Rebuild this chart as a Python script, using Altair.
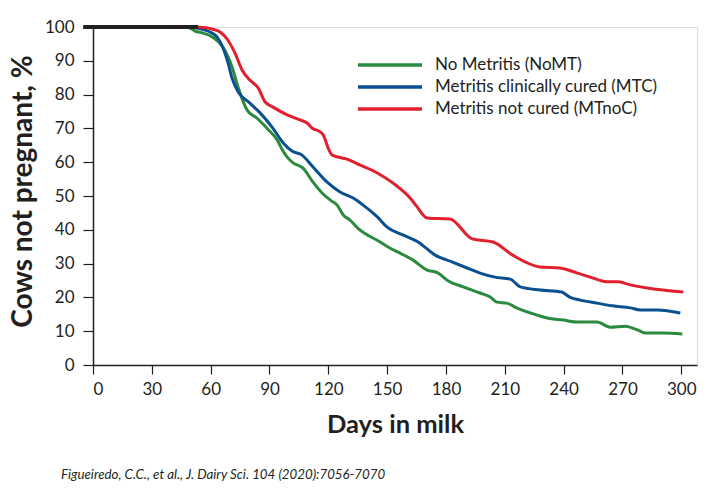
import altair as alt
import pandas as pd

# ---- data ----
SERIES = ["No Metritis (NoMT)", "Metritis clinically cured (MTC)", "Metritis not cured (MTnoC)"]
COLORS = ["#2b8a3e", "#0a4f8e", "#e1202e"]

nomt_days = [47, 49.5, 52, 56, 61, 66.3, 70.9, 74, 78.6, 83.7, 88.8, 93.9, 97, 99.5, 102, 107, 112.2, 116.8,
             121, 124.5, 127.6, 131, 135, 146.4, 150.5, 156.6, 163, 170.4, 176, 180.6, 188.8, 197.4, 202.6,
             206, 211, 216, 223, 231.6, 239.8, 247, 257, 263.8, 271.4, 277.6, 281.6, 290.8, 300.5]
nomt_vals = [100, 99.7, 98.8, 98.2, 97, 94, 88.2, 82.2, 75.4, 73, 70, 66.6, 63.2, 61.2, 59.8, 58.3, 54.1, 50.9,
             48.8, 47.3, 44.4, 42.9, 40.5, 36.4, 34.9, 33.1, 31.1, 28.1, 27.2, 25.1, 23.1, 21.3, 20.1,
             18.6, 18.3, 16.9, 15.4, 13.9, 13.3, 12.7, 12.7, 11.2, 11.5, 10.4, 9.5, 9.5, 9.2]

mtc_days = [50, 53.6, 59.7, 63.3, 66.3, 68.9, 70.9, 74, 80, 85.2, 91.3, 97, 101.5, 106.6, 112.2, 119.4, 126,
            132.7, 137.8, 145, 150, 158, 165.8, 174.5, 183, 190.8, 197.4, 205, 212.8, 217.9, 228, 239, 243,
            248.5, 257, 265, 274, 279, 287.8, 299.5]
mtc_vals = [100, 99.6, 98.5, 97, 93.8, 89.3, 84.9, 80.8, 77.5, 74.6, 70.4, 65.7, 63.3, 62.1, 58.6, 54.1, 51.2,
            49.4, 47.3, 43.8, 40.8, 38.5, 36.4, 32.5, 30.5, 28.7, 27.2, 26, 25.4, 23.1, 22.2, 21.6, 20.1,
            19.2, 18.3, 17.5, 16.9, 16.3, 16.3, 15.4]

mtnoc_days = [53.6, 60.7, 64.8, 68.9, 72.4, 76, 80, 84.2, 87.8, 91.8, 99, 105.6, 109.2, 111.7, 115.8, 117.5,
              119.9, 122, 129.6, 136, 145, 153, 161.7, 165, 170.4, 182, 193.4, 204, 214, 228, 238, 247,
              253.6, 262, 268, 274, 282.7, 290.8, 301]
mtnoc_vals = [100, 99.4, 98.5, 96, 92.3, 87.3, 84.3, 82, 77.8, 76.3, 74, 72.5, 71.6, 70.1, 69, 68,
              64.2, 62.1, 60.9, 59.2, 56.8, 53.8, 49.4, 47, 43.5, 43.2, 37.3, 36.4, 32.5, 29, 28.7, 27.2,
              26, 24.6, 24.6, 23.7, 22.8, 22.2, 21.6]

common_days = [-5, 53.6]
common_vals = [100, 100]

X_TICKS = [0, 30, 60, 90, 120, 150, 180, 210, 240, 270, 300]
Y_TICKS = [0, 10, 20, 30, 40, 50, 60, 70, 80, 90, 100]
CITATION = ["Figueiredo, C.C., et al., J. Dairy Sci. 104 (2020):7056-7070"]

INK = "#231f20"
FONT = "Lato"

rows = []
for name, ds, vs in [(SERIES[0], nomt_days, nomt_vals), (SERIES[1], mtc_days, mtc_vals),
                     (SERIES[2], mtnoc_days, mtnoc_vals)]:
    for d, v in zip(ds, vs):
        rows.append({"group": name, "day": d, "pct": v})
df = pd.DataFrame(rows)
df_common = pd.DataFrame({"day": common_days, "pct": common_vals})
df_cite = pd.DataFrame({"t": CITATION})

x = alt.X("day:Q", scale=alt.Scale(domain=[0, 308], nice=False),
          axis=alt.Axis(values=X_TICKS, title="Days in milk", grid=False, labelOverlap=False,
                        titleFontSize=25.5, titleFont=FONT, titleFontWeight="bold", titleColor=INK,
                        titleX=302, titleY=67, titleAlign="center", titleBaseline="alphabetic",
                        labelFontSize=17, labelFont=FONT, labelColor=INK, labelPadding=7,
                        tickSize=9, tickColor=INK, domainColor=INK, domainWidth=1.5, tickWidth=1.2))
y = alt.Y("pct:Q", scale=alt.Scale(domain=[0, 100], nice=False),
          axis=alt.Axis(values=Y_TICKS, tickCount=11, title="Cows not pregnant, %", grid=False,
                        labelOverlap=False,
                        titleFontSize=28, titleFont=FONT, titleFontWeight="bold", titleColor=INK,
                        titleX=-70, titleY=164, titleAngle=-90, titleAlign="center", titleBaseline="middle",
                        labelFontSize=17, labelFont=FONT, labelColor=INK, labelPadding=9,
                        tickSize=10, tickColor=INK, domainColor=INK, domainWidth=1.5, tickWidth=1.2))

lines = alt.Chart(df).mark_line(strokeWidth=3, interpolate="monotone").encode(
    x=x, y=y,
    color=alt.Color("group:N", scale=alt.Scale(domain=SERIES, range=COLORS), legend=None),
    order=alt.Order("day:Q"),
)

common = alt.Chart(df_common).mark_line(strokeWidth=4, color=INK).encode(x=x, y=y)

cite = alt.Chart(df_cite).mark_text(align="left", baseline="alphabetic", fontSize=13.3, font=FONT,
                                    fontStyle="italic", color=INK).encode(
    x=alt.value(-32), y=alt.value(452), text="t:N")

# custom legend (rule + label per series)
legend_layers = []
for i, (name, col) in enumerate(zip(SERIES, COLORS)):
    ly = 38 + i * 22
    ldf = pd.DataFrame({"label": [name]})
    legend_layers.append(
        alt.Chart(ldf).mark_rule(color=col, strokeWidth=3.5).encode(
            x=alt.value(265), x2=alt.value(329), y=alt.value(ly))
    )
    legend_layers.append(
        alt.Chart(ldf).mark_text(align="left", baseline="middle", fontSize=17, font=FONT, color=INK).encode(
            x=alt.value(342), y=alt.value(ly), text="label:N")
    )

chart = alt.layer(lines, common, cite, *legend_layers).properties(
    width=604, height=338,
    autosize=alt.AutoSizeParams(type="none"),
    padding={"left": 93, "top": 27, "right": 12, "bottom": 134},
).configure_view(stroke=None).configure(background="white")

chart.save("out.html", embed_options={"renderer": "svg", "actions": False})
